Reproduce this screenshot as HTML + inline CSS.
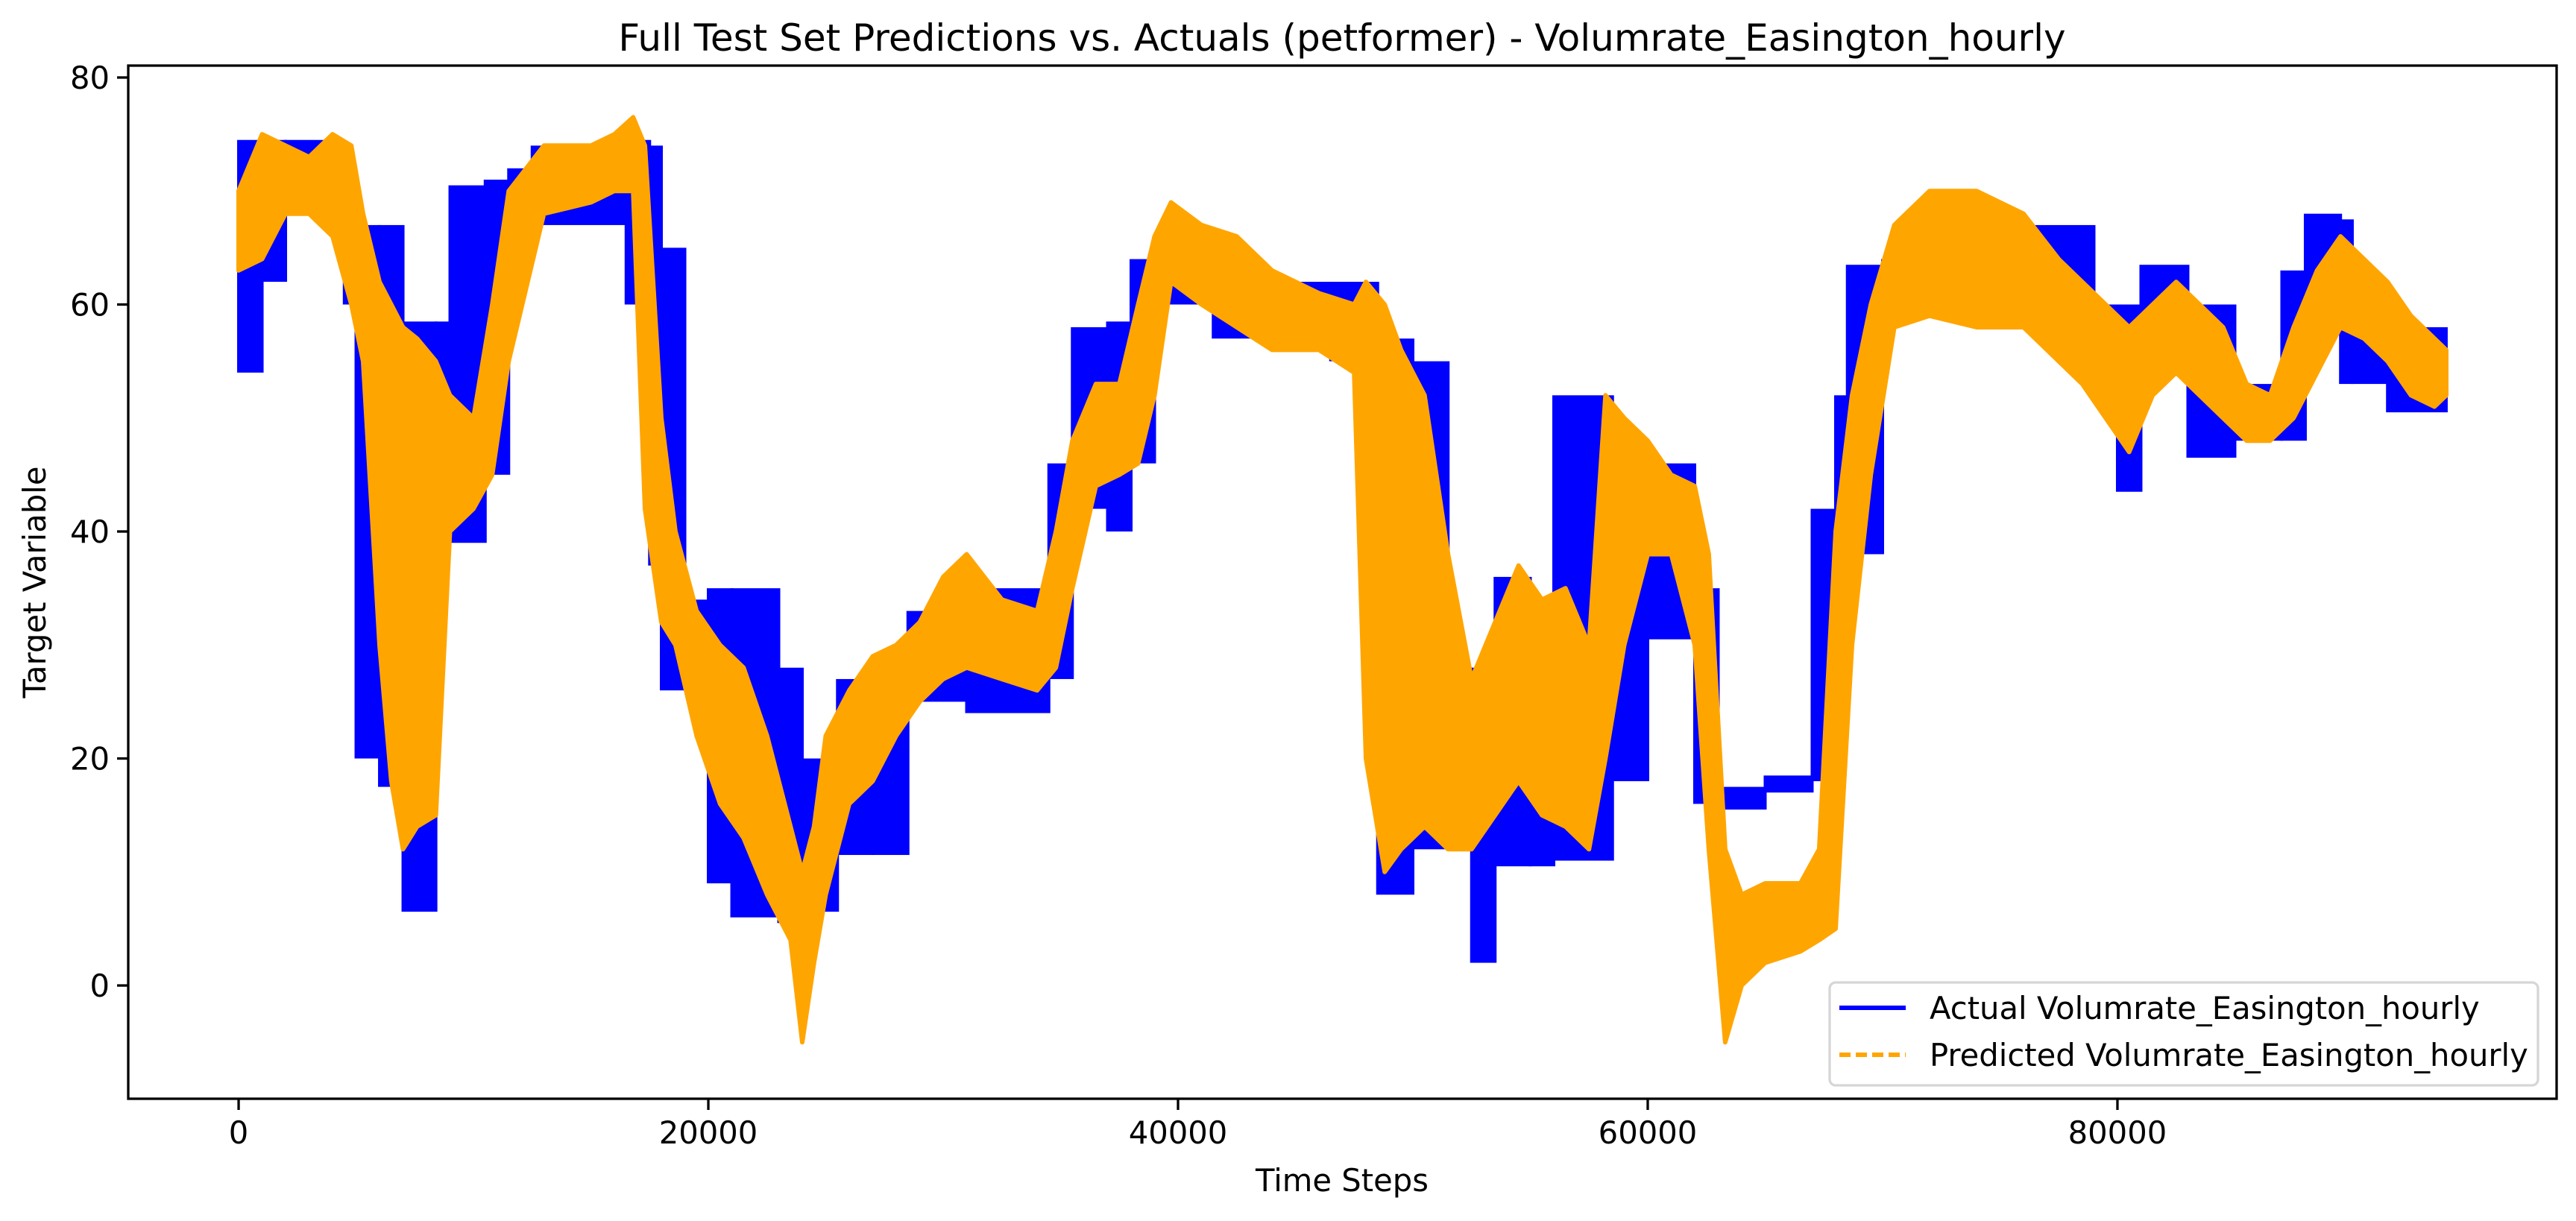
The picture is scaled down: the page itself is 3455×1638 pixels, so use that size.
<!DOCTYPE html>
<html><head><meta charset="utf-8"><style>
html,body{margin:0;padding:0;background:#fff}
svg{display:block}
text{font-family:"DejaVu Sans","Liberation Sans",sans-serif;fill:#000}
</style></head><body>
<svg id="chart" width="3455" height="1638" viewBox="0 0 3455 1638" xmlns="http://www.w3.org/2000/svg">
<rect x="0" y="0" width="3455" height="1638" fill="#fff"/>
<text x="1800" y="68" font-size="50" text-anchor="middle">Full Test Set Predictions vs. Actuals (petformer) - Volumrate_Easington_hourly</text>
<g id="plot"></g>
<g id="axes"></g>
<text x="1800" y="1598" font-size="41.7" text-anchor="middle">Time Steps</text>
<text x="0" y="0" font-size="41.7" text-anchor="middle" transform="translate(61,781) rotate(-90)">Target Variable</text>
<g>
<rect x="2454" y="1318" width="950" height="138" rx="8" fill="#fff" fill-opacity="0.8" stroke="#d6d6d6" stroke-width="3.3"/>
<line x1="2467" y1="1352" x2="2556" y2="1352" stroke="#0000ff" stroke-width="6"/>
<text x="2588" y="1367" font-size="41.7">Actual Volumrate_Easington_hourly</text>
<line x1="2467" y1="1415" x2="2556" y2="1415" stroke="#ffa500" stroke-width="6" stroke-dasharray="15,7"/>
<text x="2588" y="1430" font-size="41.7">Predicted Volumrate_Easington_hourly</text>
</g>
</svg>
<script>
const xTicks = [0, 20000, 40000, 60000, 80000];
const yTicks = [0, 20, 40, 60, 80];
// Actual series: step segments (start time step, low, high envelope)
const actualStart = [0,1000,2000,4500,5000,6000,7000,8400,9000,10500,11500,12500,16500,17500,18000,19000,20000,21000,23000,24000,25500,27000,28500,31000,34500,35500,37000,38000,39000,41500,46500,48000,48500,50000,51500,52500,53500,55000,56000,58500,60000,62000,63000,65000,67000,68000,68500,70000,72000,74000,75500,79000,80000,81000,83000,85000,87000,88000,89500,90000,91500];
const actualEnd = 94000;
const actualLow = [54,62,68,60,20,17.5,6.5,39,39,45,65,67,60,37,26,26,9,6,5.5,6.5,11.5,11.5,25,24,27,42,40,46,60,57,55,30,8,12,17,2,10.5,10.5,11,18,30.5,16,15.5,17,18,30.5,38,59,59,59,58,52,43.5,55,46.5,48,48,61,53,53,50.5];
const actualHigh = [74.5,74.5,74.5,72,67,67,58.5,58.5,70.5,71,72,74,74.5,74,65,34,35,35,28,20,27,29,33,35,46,58,58.5,64,64,62,62,62,57,55,28,28,36,31,52,46,46,35,17.5,18.5,42,52,63.5,64,69.5,67,67,60,60,63.5,60,53,63,68,67.5,60,58];
// Predicted series: envelope points (time step, low, high)
const predX = [0,1000,2000,3000,4000,4800,5300,6000,6500,7000,7600,8400,9000,10000,10800,11500,13000,15000,16000,16800,17300,18000,18600,19500,20500,21500,22500,23500,24000,24500,25000,26000,27000,28000,29000,30000,31000,32500,34000,34800,35500,36500,37500,38300,39000,39700,41000,42500,44000,46000,47500,48000,48800,49500,50500,51500,52500,53500,54500,55500,56500,57500,58200,59000,60000,61000,62000,62600,63300,64000,65000,66500,67300,68000,68700,69500,70500,72000,74000,76000,77500,78500,79500,80500,81500,82500,83500,84500,85500,86500,87500,88500,89500,90500,91500,92500,93500,94000];
const predLow = [63,64,68,68,66,60,55,30,18,12,14,15,40,42,45,55,68,69,70,70,42,32,30,22,16,13,8,4,-5,2,8,16,18,22,25,27,28,27,26,28,35,44,45,46,52,62,60,58,56,56,54,20,10,12,14,12,12,15,18,15,14,12,20,30,38,38,30,12,-5,0,2,3,4,5,30,45,58,59,58,58,55,53,50,47,52,54,52,50,48,48,50,54,58,57,55,52,51,52];
const predHigh = [70,75,74,73,75,74,68,62,60,58,57,55,52,50,60,70,74,74,75,76.5,74,50,40,33,30,28,22,14,10,14,22,26,29,30,32,36,38,34,33,40,48,53,53,60,66,69,67,66,63,61,60,62,60,56,52,38,27,32,37,34,35,30,52,50,48,45,44,38,12,8,9,9,12,40,52,60,67,70,70,68,64,62,60,58,60,62,60,58,53,52,58,63,66,64,62,59,57,56];

const L=172,R=3429,T=88,B=1474;
const xMin=-4700,xMax=98700,yMin=-9.98,yMax=81.05;
const sx=v=>L+(v-xMin)/(xMax-xMin)*(R-L);
const sy=v=>B-(v-yMin)/(yMax-yMin)*(B-T);
const NS='http://www.w3.org/2000/svg';
const plot=document.getElementById('plot');
const axes=document.getElementById('axes');
function mk(tag,attrs,parent){const e=document.createElementNS(NS,tag);for(const k in attrs)e.setAttribute(k,attrs[k]);parent.appendChild(e);return e;}

const clip=mk('clipPath',{id:'pc'},plot);
mk('rect',{x:L,y:T,width:R-L,height:B-T},clip);
const gA=mk('g',{'clip-path':'url(#pc)'},plot);


for(let i=0;i<actualStart.length;i++){
  const x0=sx(actualStart[i]);
  const x1=sx(i+1<actualStart.length?actualStart[i+1]:actualEnd);
  const r=mk('rect',{x:x0-2,y:sy(actualHigh[i]),width:x1-x0+4,height:sy(actualLow[i])-sy(actualHigh[i]),fill:'#0000ff'},gA);
  
  
}
let pts=[];
for(let i=0;i<predX.length;i++)pts.push(sx(predX[i]).toFixed(1)+','+sy(predHigh[i]).toFixed(1));
for(let i=predX.length-1;i>=0;i--)pts.push(sx(predX[i]).toFixed(1)+','+sy(predLow[i]).toFixed(1));
const pp=mk('polygon',{points:pts.join(' '),fill:'#ffa500',stroke:'#ffa500','stroke-width':6,'stroke-linejoin':'round','clip-path':'url(#pc)'},plot);



const frame=mk('rect',{x:L,y:T,width:R-L,height:B-T,fill:'none',stroke:'#000','stroke-width':3.3},axes);


xTicks.forEach(v=>{
  const x=sx(v);
  const t=mk('line',{x1:x,y1:B,x2:x,y2:B+15,stroke:'#000','stroke-width':3.3},axes);
  
  
  const lb=mk('text',{x:x,y:B+60,'font-size':41.7,'text-anchor':'middle'},axes);
  lb.textContent=String(v);
  
  
});
yTicks.forEach(v=>{
  const y=sy(v);
  const t=mk('line',{x1:L-15,y1:y,x2:L,y2:y,stroke:'#000','stroke-width':3.3},axes);
  
  
  const lb=mk('text',{x:L-25,y:y+15,'font-size':41.7,'text-anchor':'end'},axes);
  lb.textContent=String(v);
  
  
});
</script>
</body></html>
